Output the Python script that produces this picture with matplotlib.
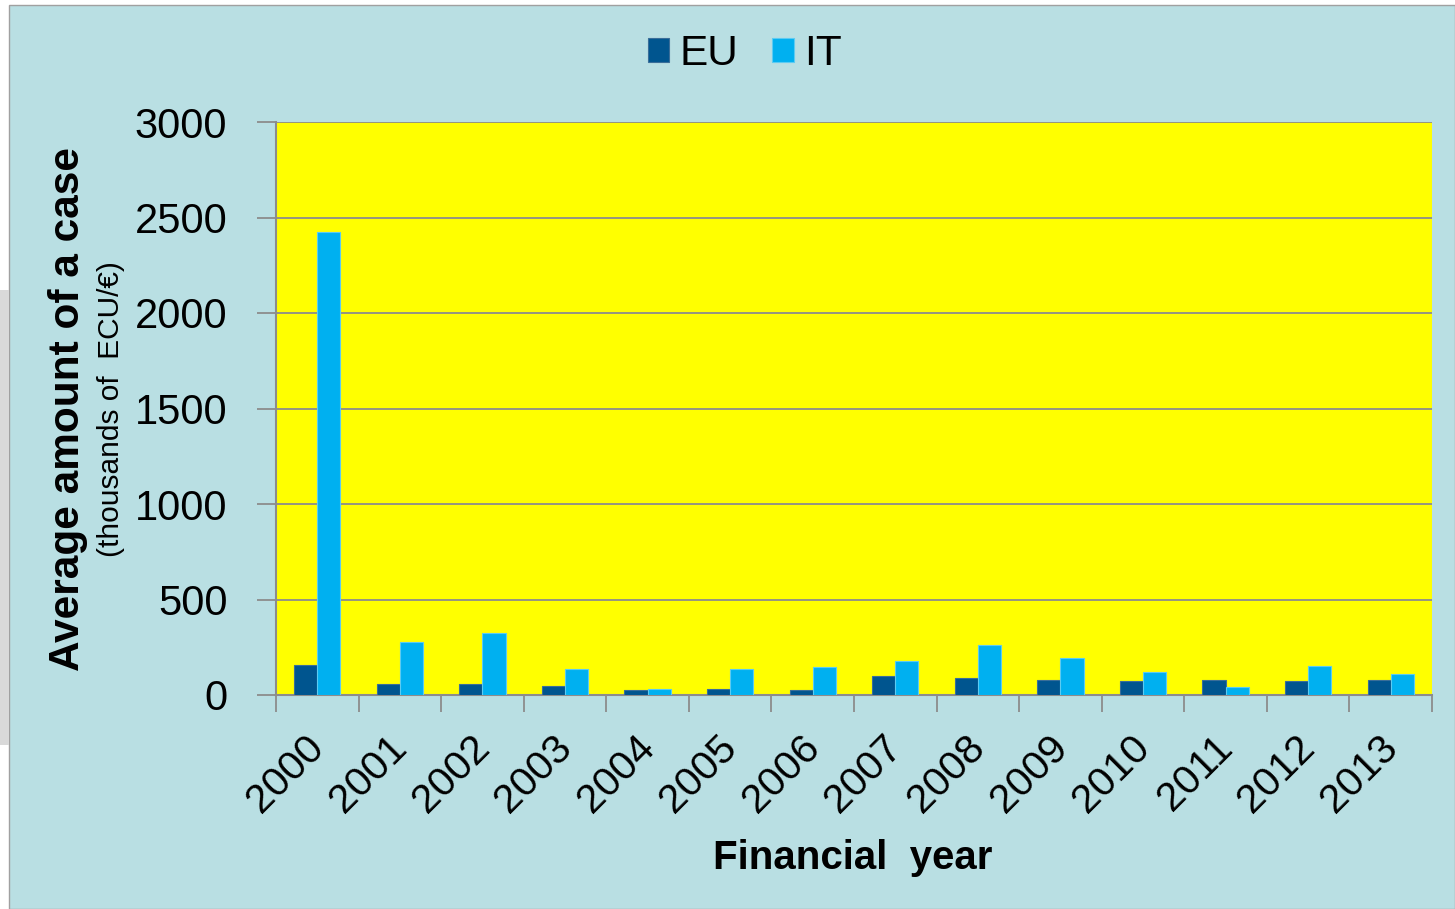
import numpy as np
import matplotlib.pyplot as plt
from matplotlib.patches import Rectangle
from matplotlib.transforms import ScaledTranslation

# data
years = ['2000', '2001', '2002', '2003', '2004', '2005', '2006',
         '2007', '2008', '2009', '2010', '2011', '2012', '2013']
eu_values = [158, 56, 56, 49, 25, 30, 25, 98, 91, 79, 72, 79, 72, 79]
it_values = [2425, 279, 326, 137, 30, 137, 146, 179, 260, 193, 119, 44, 153, 112]
y_ticks = [0, 500, 1000, 1500, 2000, 2500, 3000]

EU_COLOR = '#00558F'
IT_COLOR = '#00B0F0'
PANEL = '#B9DFE3'
GRID = '#8C8C8C'

plt.rcParams['font.family'] = ['Liberation Sans', 'DejaVu Sans']

fig = plt.figure(figsize=(14.55, 9.09), dpi=100)
fig.patch.set_facecolor('white')
W, H = 1455, 909

# slide panel behind the chart
fig.patches.append(Rectangle((9 / W, 0), 1 - 9 / W, 1 - 5 / H, transform=fig.transFigure,
                             facecolor=PANEL, edgecolor='#A0A0A0', linewidth=1, zorder=-10))
fig.patches.append(Rectangle((0, 1 - 745 / H), 9 / W, 455 / H, transform=fig.transFigure,
                             facecolor='#D9D9D9', edgecolor='none', zorder=-10))

ax = fig.add_axes([276 / W, 1 - 695 / H, (1432 - 276) / W, (695 - 122) / H])
ax.set_zorder(1)
ax.set_facecolor('#FFFF00')

x = np.arange(len(years))
bw = 0.28
ax.bar(x - bw / 2, eu_values, bw, color=EU_COLOR, edgecolor='#3A6E99', linewidth=0.8,
       label='EU', zorder=3)
ax.bar(x + bw / 2, it_values, bw, color=IT_COLOR, edgecolor='#5CCBF2', linewidth=0.8,
       label='IT', zorder=3)

ax.set_xlim(-0.5, len(years) - 0.5)
ax.set_ylim(0, 3000)
ax.set_yticks(y_ticks)
ax.set_yticklabels([str(v) for v in y_ticks], fontsize=30)
ax.yaxis.grid(True, color=GRID, linewidth=1.3, zorder=1)
ax.set_axisbelow(True)
ax.tick_params(axis='y', length=14, width=1.3, color=GRID, pad=21)

ax.set_xticks(x)
ax.set_xticklabels(years, rotation=45, ha='right', va='top', rotation_mode='anchor',
                   fontsize=29.5)
ax.tick_params(axis='x', which='major', length=0, pad=14)
ax.set_xticks(np.arange(len(years) + 1) - 0.5, minor=True)
ax.tick_params(axis='x', which='minor', length=12, width=1.3, color=GRID)

# nudge year labels down/left like the original slide
shift = ScaledTranslation(-9 / 72, -10 / 72, fig.dpi_scale_trans)
for lab in ax.get_xticklabels():
    lab.set_transform(lab.get_transform() + shift)

for side in ['top', 'right']:
    ax.spines[side].set_visible(False)
for side in ['left', 'bottom']:
    ax.spines[side].set_color(GRID)
    ax.spines[side].set_linewidth(1.5)

fig.text(853 / W, 1 - 858 / H, 'Financial  year', ha='center', va='center',
         fontsize=29, fontweight='bold')
fig.text(68 / W, 1 - 409 / H, 'Average amount of a case', rotation=90, ha='center',
         va='center', fontsize=30.5, fontweight='bold')
fig.text(111 / W, 1 - 409 / H, '(thousands of  ECU/\u20ac)', rotation=90, ha='center',
         va='center', fontsize=21.5)

fig.legend(loc='center', bbox_to_anchor=(745 / W, 1 - 54 / H), ncol=2, frameon=False,
           fontsize=30.5, handlelength=0.5, handleheight=0.5, handletextpad=0.25,
           columnspacing=0.8)

fig.savefig('out.png', dpi=100, facecolor=fig.get_facecolor())
